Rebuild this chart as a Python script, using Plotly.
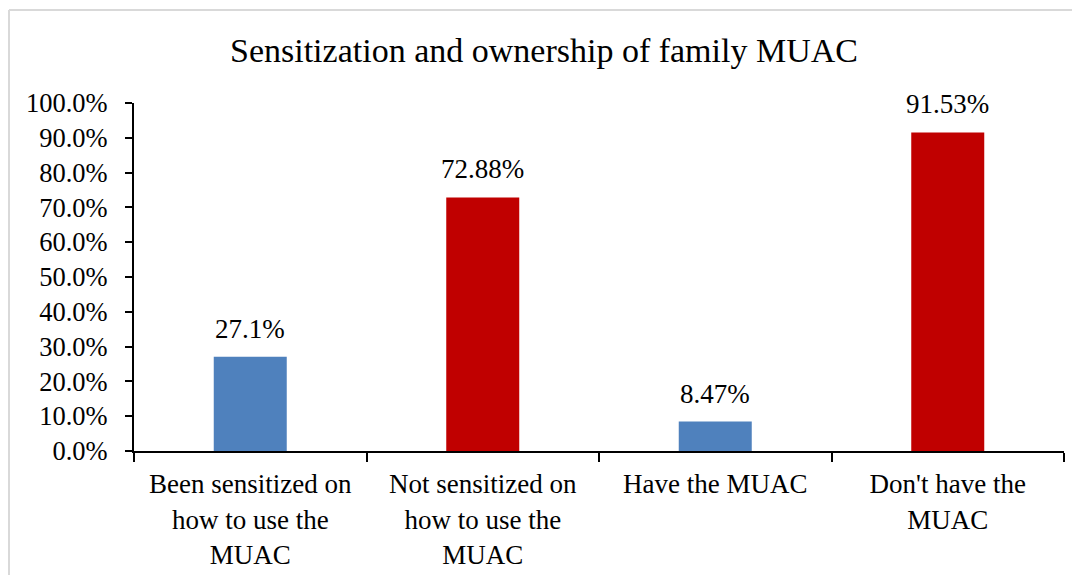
import plotly.graph_objects as go

categories = ["Been sensitized on<br>how to use the<br>MUAC",
              "Not sensitized on<br>how to use the<br>MUAC",
              "Have the MUAC",
              "Don't have the<br>MUAC"]
values = [0.271, 0.7288, 0.0847, 0.9153]
value_labels = ["27.1%", "72.88%", "8.47%", "91.53%"]
colors = ["#4F81BD", "#C00000", "#4F81BD", "#C00000"]

FONT = "Liberation Serif, Times New Roman, serif"

fig = go.Figure()

fig.add_trace(go.Bar(
    x=categories, y=values,
    marker=dict(color=colors, line=dict(width=0)),
    width=0.314,
    showlegend=False,
    hoverinfo='skip'
))

# data labels sit a bit above the bars, like Excel does
for cat, v, lab in zip(categories, values, value_labels):
    fig.add_annotation(
        x=cat, y=v, text=lab,
        showarrow=False, yanchor='bottom', yshift=11,
        font=dict(family=FONT, size=27, color='black')
    )

# light grey chart-area border: only the top and left edges are in view
border = dict(color='#D9D9D9', width=2)
fig.add_shape(type='line', xref='paper', yref='paper',
              x0=-0.1344, x1=1.2, y0=1.267, y1=1.267, line=border, layer='below')
fig.add_shape(type='line', xref='paper', yref='paper',
              x0=-0.1344, x1=-0.1344, y0=-0.6, y1=1.267, line=border, layer='below')

fig.update_layout(
    title=dict(text='Sensitization and ownership of family MUAC',
               x=0.5, xanchor='center', y=0.926, yanchor='middle',
               font=dict(family=FONT, size=34, color='black')),
    font=dict(family=FONT, size=26, color='black'),
    width=1072, height=567,
    paper_bgcolor='white', plot_bgcolor='white',
    bargap=0.686,
    margin=dict(l=126, r=16, t=95, b=124, autoexpand=False),
    xaxis=dict(
        showline=True, linecolor='black', linewidth=2,
        ticks='outside', ticklen=9, tickwidth=2, tickcolor='black',
        tickson='boundaries', ticklabelstandoff=8,
        tickfont=dict(family=FONT, size=27, color='black'),
        showgrid=False
    ),
    yaxis=dict(
        range=[0, 1.0], dtick=0.1, tickformat='.1%',
        showline=True, linecolor='black', linewidth=2,
        ticks='outside', ticklen=7, tickwidth=2, tickcolor='black',
        ticklabelstandoff=12,
        tickfont=dict(family=FONT, size=26.5, color='black'),
        showgrid=False, zeroline=False
    )
)

fig.write_html("out.html")
